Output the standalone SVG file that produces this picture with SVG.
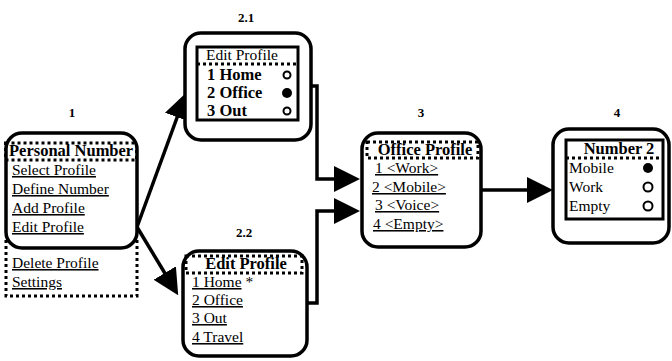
<svg xmlns="http://www.w3.org/2000/svg" width="672" height="361" viewBox="0 0 672 361">
  <style>
    .box { fill: #fff; stroke: #000; stroke-width: 3.5; }
    .inner { fill: none; stroke: #000; stroke-width: 3; }
    .dot { fill: none; stroke: #000; stroke-width: 3; stroke-dasharray: 3 3; }
    .t { font-family: "Liberation Serif", "Times New Roman", serif; font-size: 15.5px; fill: #000; }
    .b { font-weight: bold; font-size: 16.5px; }
    .u { text-decoration: underline; }
    .c { text-anchor: middle; }
    .lbl { font-family: "Liberation Serif", "Times New Roman", serif; font-size: 13px; font-weight: bold; text-anchor: middle; fill: #000; }
    .conn { fill: none; stroke: #000; stroke-width: 3.5; }
    .ring { fill: #fff; stroke: #000; stroke-width: 2; }
    .dotfill { fill: #000; }
  </style>
  <defs>
    <marker id="arrow" markerUnits="userSpaceOnUse" markerWidth="26" markerHeight="26" refX="14" refY="13" orient="auto">
      <path d="M0,0 L26,13 L0,26 Z" fill="#000"/>
    </marker>
  </defs>

  <!-- step numbers -->
  <text class="lbl" x="72" y="117">1</text>
  <text class="lbl" x="246" y="22">2.1</text>
  <text class="lbl" x="244" y="237">2.2</text>
  <text class="lbl" x="421" y="117">3</text>
  <text class="lbl" x="617" y="117">4</text>

  <!-- connectors -->
  <g id="connectors">
    <line class="conn" x1="137" y1="227" x2="182" y2="104" marker-end="url(#arrow)"/>
    <line class="conn" x1="137" y1="227" x2="172" y2="285" marker-end="url(#arrow)"/>
    <path class="conn" d="M311,86 H317 V179 H348" marker-end="url(#arrow)"/>
    <path class="conn" d="M307,303 H317 V211 H348" marker-end="url(#arrow)"/>
    <path class="conn" d="M481,190 H541" marker-end="url(#arrow)"/>
  </g>

  <!-- 1: main menu -->
  <g id="node-1">
    <path class="dot" d="M6,240 V296 H137 V240"/>
    <rect class="box" x="6" y="133" width="131" height="115" rx="16"/>
    <rect class="dot" x="5.5" y="143" width="131" height="17"/>
    <text class="t b" x="9" y="156">Personal Number</text>
    <text class="t u" x="12" y="175">Select Profile</text>
    <text class="t u" x="12" y="194">Define Number</text>
    <text class="t u" x="12" y="213">Add Profile</text>
    <text class="t u" x="12" y="232">Edit Profile</text>
    <text class="t u" x="12" y="268">Delete Profile</text>
    <text class="t u" x="12" y="287">Settings</text>
  </g>

  <!-- 2.1: profile selection -->
  <g id="node-2-1">
    <rect class="box" x="185" y="33" width="126" height="107" rx="16"/>
    <rect class="inner" x="197" y="47" width="101" height="73"/>
    <text class="t" x="206" y="60">Edit Profile</text>
    <line class="dot" x1="197" y1="64" x2="298" y2="64"/>
    <text class="t b" x="207" y="80">1 Home</text>
    <text class="t b" x="207" y="98">2 Office</text>
    <text class="t b" x="207" y="116">3 Out</text>
    <circle class="ring" cx="287" cy="75" r="3.5"/>
    <circle class="dotfill" cx="287" cy="93" r="5"/>
    <circle class="ring" cx="287" cy="111" r="3.5"/>
  </g>

  <!-- 2.2: profile list -->
  <g id="node-2-2">
    <rect class="box" x="183" y="251" width="124" height="105" rx="16"/>
    <rect class="dot" x="186" y="256" width="116" height="17"/>
    <text class="t b c" x="246" y="269">Edit Profile</text>
    <text class="t" x="192" y="287"><tspan class="u">1 Home</tspan> *</text>
    <text class="t u" x="192" y="305">2 Office</text>
    <text class="t u" x="192" y="323">3 Out</text>
    <text class="t u" x="192" y="342">4 Travel</text>
  </g>

  <!-- 3: profile numbers -->
  <g id="node-3">
    <rect class="box" x="362" y="133" width="119" height="114" rx="16"/>
    <rect class="dot" x="367" y="142" width="111" height="16"/>
    <text class="t b c" x="425" y="155">Office Profile</text>
    <text class="t u" x="375" y="173">1 &lt;Work&gt;</text>
    <text class="t u" x="372" y="192">2 &lt;Mobile&gt;</text>
    <text class="t u" x="375" y="210">3 &lt;Voice&gt;</text>
    <text class="t u" x="373" y="229">4 &lt;Empty&gt;</text>
  </g>

  <!-- 4: number choice -->
  <g id="node-4">
    <rect class="box" x="553" y="129" width="116" height="114" rx="16"/>
    <rect class="inner" x="566" y="140" width="97" height="79"/>
    <text class="t b c" x="619" y="154">Number 2</text>
    <line class="dot" x1="566" y1="158" x2="663" y2="158"/>
    <text class="t" x="569" y="173">Mobile</text>
    <text class="t" x="569" y="192">Work</text>
    <text class="t" x="569" y="211">Empty</text>
    <circle class="dotfill" cx="648" cy="168" r="5"/>
    <circle class="ring" cx="648" cy="187" r="4.5"/>
    <circle class="ring" cx="648" cy="206" r="4.5"/>
  </g>
</svg>
